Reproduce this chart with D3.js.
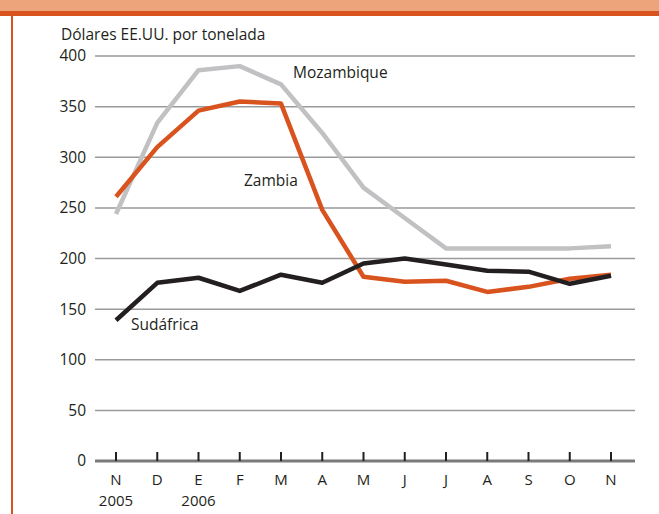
<!DOCTYPE html>
<html>
<head>
<meta charset="utf-8">
<script src="https://cdn.jsdelivr.net/npm/d3@7"></script>
<style>
  body { margin: 0; background: #fff; }
  text { font-family: "Open Sans", "Noto Sans", sans-serif; }
</style>
</head>
<body>
<div id="chart"></div>
<script>
const months = ["N", "D", "E", "F", "M", "A", "M", "J", "J", "A", "S", "O", "N"];
const years = ["2005", "", "2006", "", "", "", "", "", "", "", "", "", ""];
const mozambique = [244, 334, 386, 390, 372, 324, 270, 240, 210, 210, 210, 210, 212];
const zambia = [261, 310, 346, 355, 353, 248, 182, 177, 178, 167, 172, 180, 184];
const sudafrica = [139, 176, 181, 168, 184, 176, 195, 200, 194, 188, 187, 175, 183];
const yTicks = [0, 50, 100, 150, 200, 250, 300, 350, 400];

const width = 659;
const height = 514;

const svg = d3.select("#chart")
    .append("svg")
    .attr("width", width)
    .attr("height", height);

// header band + left rule
svg.append("rect").attr("x", 0).attr("y", 0).attr("width", width).attr("height", 12).attr("fill", "#eea47a");
svg.append("rect").attr("x", 0).attr("y", 11).attr("width", width).attr("height", 5).attr("fill", "#d9531e");
svg.append("rect").attr("x", 11).attr("y", 16).attr("width", 2).attr("height", height - 16).attr("fill", "#d9531e");

const x = d3.scalePoint()
    .domain(d3.range(months.length))
    .range([116, 611]);
const y = d3.scaleLinear()
    .domain([0, 400])
    .range([461, 56]);

// gridlines
svg.append("g")
  .selectAll("line")
  .data(yTicks.filter(d => d > 0))
  .join("line")
    .attr("x1", 95).attr("x2", 635)
    .attr("y1", d => y(d)).attr("y2", d => y(d))
    .attr("stroke", "#9a9a9a")
    .attr("stroke-width", 1.5);

// y labels
svg.append("g")
  .selectAll("text")
  .data(yTicks)
  .join("text")
    .attr("x", 86)
    .attr("y", d => y(d))
    .attr("dy", "0.35em")
    .attr("text-anchor", "end")
    .attr("font-size", 15.5)
    .attr("fill", "#231f20")
    .text(d => d);

svg.append("text")
    .attr("x", 61).attr("y", 35)
    .attr("dy", "0.35em")
    .attr("font-size", 15.5)
    .attr("fill", "#231f20")
    .text("Dólares EE.UU. por tonelada");

// series
const line = d3.line()
    .x((d, i) => x(i))
    .y(d => y(d));

const series = [
  {name: "Mozambique", values: mozambique, color: "#c1c1c3"},
  {name: "Zambia", values: zambia, color: "#d9531e"},
  {name: "Sudáfrica", values: sudafrica, color: "#231f20"}
];

svg.append("g")
  .selectAll("path")
  .data(series)
  .join("path")
    .attr("fill", "none")
    .attr("stroke", d => d.color)
    .attr("stroke-width", 4.5)
    .attr("stroke-linejoin", "round")
    .attr("d", d => line(d.values));

// x axis
svg.append("line")
    .attr("x1", 95).attr("x2", 635)
    .attr("y1", y(0)).attr("y2", y(0))
    .attr("stroke", "#7a7a7a")
    .attr("stroke-width", 3);

svg.append("g")
  .selectAll("line")
  .data(months.map((m, i) => i))
  .join("line")
    .attr("x1", d => x(d)).attr("x2", d => x(d))
    .attr("y1", y(0) - 9).attr("y2", y(0))
    .attr("stroke", "#231f20")
    .attr("stroke-width", 2);

svg.append("g")
  .selectAll("text")
  .data(months)
  .join("text")
    .attr("x", (d, i) => x(i))
    .attr("y", 480)
    .attr("dy", "0.35em")
    .attr("text-anchor", "middle")
    .attr("font-size", 15)
    .attr("fill", "#231f20")
    .text(d => d);

svg.append("g")
  .selectAll("text")
  .data(years)
  .join("text")
    .attr("x", (d, i) => x(i))
    .attr("y", 501)
    .attr("dy", "0.35em")
    .attr("text-anchor", "middle")
    .attr("font-size", 15)
    .attr("fill", "#231f20")
    .text(d => d);

// series labels
const labels = [
  {text: "Mozambique", x: 293, y: 73},
  {text: "Zambia", x: 244, y: 181},
  {text: "Sudáfrica", x: 131, y: 325}
];
svg.append("g")
  .selectAll("text")
  .data(labels)
  .join("text")
    .attr("x", d => d.x)
    .attr("y", d => d.y)
    .attr("dy", "0.35em")
    .attr("font-size", 15.5)
    .attr("fill", "#231f20")
    .text(d => d.text);
</script>
</body>
</html>
